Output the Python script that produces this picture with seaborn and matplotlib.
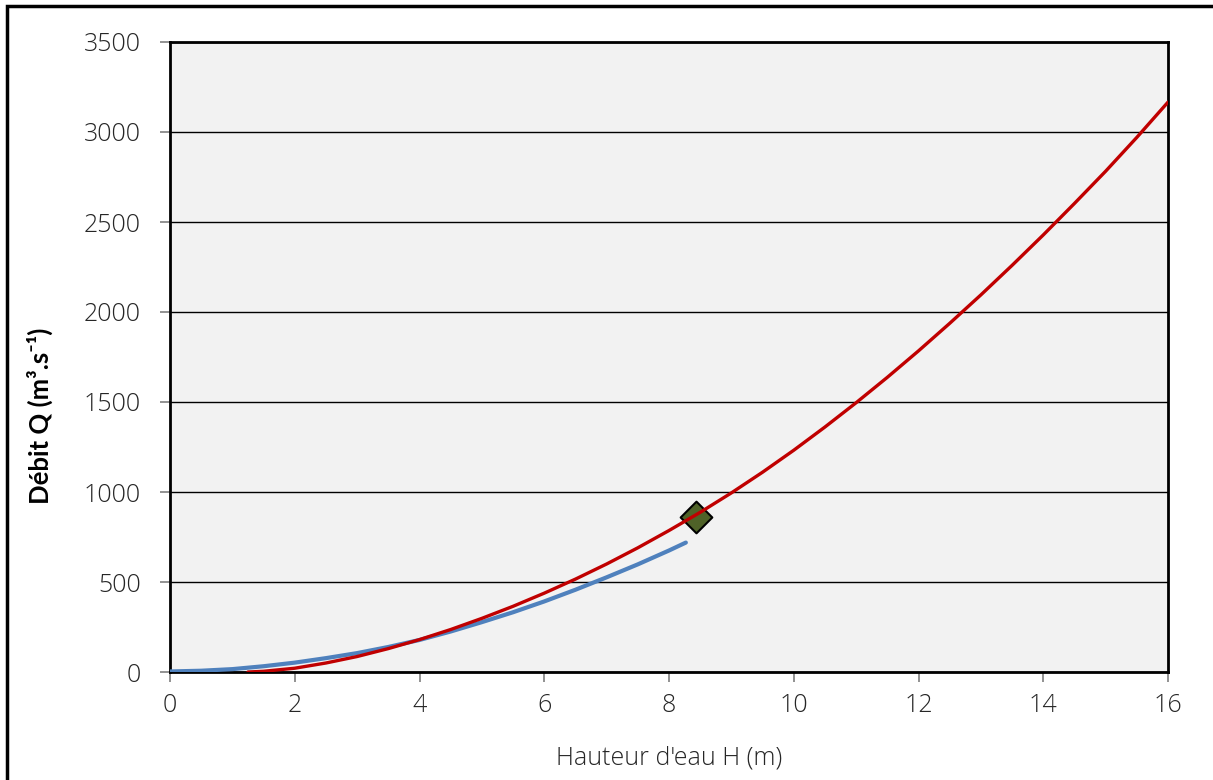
import matplotlib
matplotlib.use("Agg")
import matplotlib.pyplot as plt
import matplotlib.patches as mpatches
import seaborn as sns
import pandas as pd

# Data
red_h = [1.25, 1.5, 2.0, 2.5, 3.0, 3.5, 4.0, 4.5, 5.0, 5.5, 6.0, 6.5, 7.0, 7.5, 8.0, 8.5,
         9.0, 9.5, 10.0, 10.5, 11.0, 11.5, 12.0, 12.5, 13.0, 13.5, 14.0, 14.5, 15.0, 15.5, 16.0]
red_q = [0, 4, 21, 50, 86, 130, 180, 236, 298, 365, 438, 516, 600, 690, 786, 887,
         995, 1110, 1232, 1361, 1496, 1637, 1784, 1937, 2095, 2259, 2428, 2603, 2782, 2970, 3166]

blue_h = [0.0, 0.5, 1.0, 1.5, 2.0, 2.5, 3.0, 3.5, 4.0, 4.5, 5.0, 5.5, 6.0, 6.5, 7.0, 7.5, 8.0, 8.27]
blue_q = [3, 7, 16, 32, 52, 77, 105, 139, 178, 225, 277, 332, 392, 457, 526, 598, 675, 719]

point_h = [8.44]
point_q = [863]

x_ticks = [0, 2, 4, 6, 8, 10, 12, 14, 16]
y_ticks = [0, 500, 1000, 1500, 2000, 2500, 3000, 3500]

sns.set_theme(style="white")
plt.rcParams['font.family'] = ['Open Sans', 'DejaVu Sans']

fig = plt.figure(figsize=(12.13, 7.80), dpi=100)
ax = fig.add_axes([170/1213, 108/780, 998/1213, 630/780])
ax.set_facecolor('#f2f2f2')

df_red = pd.DataFrame({'H': red_h, 'Q': red_q})
df_blue = pd.DataFrame({'H': blue_h, 'Q': blue_q})
df_pt = pd.DataFrame({'H': point_h, 'Q': point_q})

sns.lineplot(data=df_blue, x='H', y='Q', ax=ax, color='#4f81bd', linewidth=3.0,
             estimator=None, sort=False, zorder=3)
sns.scatterplot(data=df_pt, x='H', y='Q', ax=ax, marker='D', s=260, color='#4f6228',
                edgecolor='black', linewidth=1.5, zorder=4)
sns.lineplot(data=df_red, x='H', y='Q', ax=ax, color='#c00000', linewidth=2.4,
             estimator=None, sort=False, zorder=5)

ax.set_xlim(0, 16)
ax.set_ylim(0, 3500)
ax.set_xticks(x_ticks)
ax.set_yticks(y_ticks)
ax.set_xticklabels([str(v) for v in x_ticks], fontsize=18, fontweight='light', color='#262626')
ax.set_yticklabels([str(v) for v in y_ticks], fontsize=18, fontweight='light', color='#262626')

ax.yaxis.grid(True, color='black', linewidth=1.0, zorder=1)
ax.xaxis.grid(False)
ax.set_axisbelow(True)

for s in ax.spines.values():
    s.set_visible(True)
    s.set_color('black')
    s.set_linewidth(2.0)

ax.tick_params(axis='both', which='major', direction='out', length=7, width=1.2,
               color='#7f7f7f', bottom=True, left=True)
ax.tick_params(axis='y', pad=14)
ax.tick_params(axis='x', pad=8)

ax.set_xlabel("Hauteur d'eau H (m)", fontsize=18, fontweight='light', color='#262626', labelpad=20)
ax.set_ylabel("")
fig.text(40/1213, 1 - 416/780, "Débit Q (m³.s⁻¹)", rotation=90, ha='center', va='center',
         fontsize=18.5, fontweight='bold', color='black',
         family=['Lato', 'Open Sans', 'DejaVu Sans'])

# Outer frame of the figure
rect = mpatches.Rectangle((7/1213, -0.1), 1.2, 0.1 + (780 - 6)/780, transform=fig.transFigure,
                          fill=False, edgecolor='black', linewidth=2.5, zorder=10)
fig.patches.append(rect)

fig.savefig('out.png', dpi=100)
